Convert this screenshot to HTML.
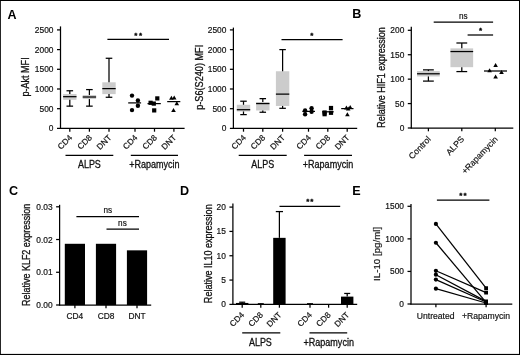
<!DOCTYPE html>
<html><head><meta charset="utf-8"><title>Figure</title>
<style>
html,body{margin:0;padding:0;background:#fff;}
body{width:520px;height:355px;overflow:hidden;position:relative;}
svg{display:block;position:absolute;left:0;top:0;}
text{font-family:"Liberation Sans",sans-serif;}
</style></head><body>
<svg width="520" height="355" viewBox="0 0 520 355">
<rect x="0" y="0" width="520" height="355" fill="#fff"/>
<text transform="translate(7.60,19.10)" font-size="12.5" text-anchor="start" font-weight="bold" fill="#000">A</text>
<line x1="60.50" y1="26.40" x2="60.50" y2="128.90" stroke="#000" stroke-width="1.25" stroke-linecap="butt"/>
<line x1="57.00" y1="128.40" x2="60.50" y2="128.40" stroke="#000" stroke-width="1.25" stroke-linecap="butt"/>
<text transform="translate(53.50,131.40)" font-size="8.4" text-anchor="end" stroke="#111" stroke-width="0.18" fill="#111">0</text>
<line x1="57.00" y1="108.70" x2="60.50" y2="108.70" stroke="#000" stroke-width="1.25" stroke-linecap="butt"/>
<text transform="translate(53.50,111.70)" font-size="8.4" text-anchor="end" stroke="#111" stroke-width="0.18" fill="#111">500</text>
<line x1="57.00" y1="89.00" x2="60.50" y2="89.00" stroke="#000" stroke-width="1.25" stroke-linecap="butt"/>
<text transform="translate(53.50,92.00)" font-size="8.4" text-anchor="end" stroke="#111" stroke-width="0.18" fill="#111">1000</text>
<line x1="57.00" y1="69.30" x2="60.50" y2="69.30" stroke="#000" stroke-width="1.25" stroke-linecap="butt"/>
<text transform="translate(53.50,72.30)" font-size="8.4" text-anchor="end" stroke="#111" stroke-width="0.18" fill="#111">1500</text>
<line x1="57.00" y1="49.60" x2="60.50" y2="49.60" stroke="#000" stroke-width="1.25" stroke-linecap="butt"/>
<text transform="translate(53.50,52.60)" font-size="8.4" text-anchor="end" stroke="#111" stroke-width="0.18" fill="#111">2000</text>
<line x1="57.00" y1="29.90" x2="60.50" y2="29.90" stroke="#000" stroke-width="1.25" stroke-linecap="butt"/>
<text transform="translate(53.50,32.90)" font-size="8.4" text-anchor="end" stroke="#111" stroke-width="0.18" fill="#111">2500</text>
<line x1="60.00" y1="128.40" x2="184.60" y2="128.40" stroke="#000" stroke-width="1.25" stroke-linecap="butt"/>
<line x1="69.80" y1="128.40" x2="69.80" y2="131.70" stroke="#000" stroke-width="1.25" stroke-linecap="butt"/>
<line x1="89.40" y1="128.40" x2="89.40" y2="131.70" stroke="#000" stroke-width="1.25" stroke-linecap="butt"/>
<line x1="109.00" y1="128.40" x2="109.00" y2="131.70" stroke="#000" stroke-width="1.25" stroke-linecap="butt"/>
<line x1="135.00" y1="128.40" x2="135.00" y2="131.70" stroke="#000" stroke-width="1.25" stroke-linecap="butt"/>
<line x1="154.50" y1="128.40" x2="154.50" y2="131.70" stroke="#000" stroke-width="1.25" stroke-linecap="butt"/>
<line x1="173.90" y1="128.40" x2="173.90" y2="131.70" stroke="#000" stroke-width="1.25" stroke-linecap="butt"/>
<text transform="translate(29.10,76.90) rotate(-90) scale(0.9034,1)" font-size="10" text-anchor="middle" stroke="#111" stroke-width="0.3" fill="#111">p-Akt MFI</text>
<rect x="63.10" y="94.04" width="13.40" height="5.79" fill="#cccccc"/>
<line x1="69.80" y1="90.77" x2="69.80" y2="94.04" stroke="#000" stroke-width="1.25" stroke-linecap="butt"/>
<line x1="69.80" y1="99.84" x2="69.80" y2="106.14" stroke="#000" stroke-width="1.25" stroke-linecap="butt"/>
<line x1="66.50" y1="90.77" x2="73.10" y2="90.77" stroke="#000" stroke-width="1.25" stroke-linecap="butt"/>
<line x1="66.50" y1="106.14" x2="73.10" y2="106.14" stroke="#000" stroke-width="1.25" stroke-linecap="butt"/>
<line x1="63.10" y1="96.68" x2="76.50" y2="96.68" stroke="#000" stroke-width="1.25" stroke-linecap="butt"/>
<rect x="82.70" y="94.99" width="13.40" height="4.06" fill="#cccccc"/>
<line x1="89.40" y1="89.59" x2="89.40" y2="94.99" stroke="#000" stroke-width="1.25" stroke-linecap="butt"/>
<line x1="89.40" y1="99.05" x2="89.40" y2="106.14" stroke="#000" stroke-width="1.25" stroke-linecap="butt"/>
<line x1="86.10" y1="89.59" x2="92.70" y2="89.59" stroke="#000" stroke-width="1.25" stroke-linecap="butt"/>
<line x1="86.10" y1="106.14" x2="92.70" y2="106.14" stroke="#000" stroke-width="1.25" stroke-linecap="butt"/>
<line x1="82.70" y1="97.00" x2="96.10" y2="97.00" stroke="#000" stroke-width="1.25" stroke-linecap="butt"/>
<rect x="102.30" y="82.30" width="13.40" height="11.82" fill="#cccccc"/>
<line x1="109.00" y1="58.27" x2="109.00" y2="82.30" stroke="#000" stroke-width="1.25" stroke-linecap="butt"/>
<line x1="109.00" y1="94.12" x2="109.00" y2="97.27" stroke="#000" stroke-width="1.25" stroke-linecap="butt"/>
<line x1="105.70" y1="58.27" x2="112.30" y2="58.27" stroke="#000" stroke-width="1.25" stroke-linecap="butt"/>
<line x1="105.70" y1="97.27" x2="112.30" y2="97.27" stroke="#000" stroke-width="1.25" stroke-linecap="butt"/>
<line x1="102.30" y1="88.61" x2="115.70" y2="88.61" stroke="#000" stroke-width="1.25" stroke-linecap="butt"/>
<circle cx="132.00" cy="95.60" r="2.2" fill="#000"/>
<circle cx="137.90" cy="100.50" r="2.2" fill="#000"/>
<circle cx="137.90" cy="105.70" r="2.2" fill="#000"/>
<circle cx="132.00" cy="110.10" r="2.2" fill="#000"/>
<line x1="128.20" y1="102.90" x2="141.10" y2="102.90" stroke="#000" stroke-width="1.25" stroke-linecap="butt"/>
<rect x="155.20" y="96.30" width="4.20" height="4.20" fill="#000"/>
<rect x="148.50" y="100.70" width="4.20" height="4.20" fill="#000"/>
<rect x="151.70" y="101.50" width="4.20" height="4.20" fill="#000"/>
<rect x="152.10" y="108.30" width="4.20" height="4.20" fill="#000"/>
<line x1="147.50" y1="103.60" x2="160.80" y2="103.60" stroke="#000" stroke-width="1.25" stroke-linecap="butt"/>
<polygon points="171.40,95.68 169.10,99.68 173.70,99.68" fill="#000"/>
<polygon points="174.20,95.38 171.90,99.38 176.50,99.38" fill="#000"/>
<polygon points="176.80,101.28 174.50,105.28 179.10,105.28" fill="#000"/>
<polygon points="173.50,107.98 171.20,111.98 175.80,111.98" fill="#000"/>
<line x1="167.20" y1="101.60" x2="180.30" y2="101.60" stroke="#000" stroke-width="1.25" stroke-linecap="butt"/>
<line x1="107.40" y1="39.30" x2="169.00" y2="39.30" stroke="#000" stroke-width="1.25" stroke-linecap="butt"/>
<text transform="translate(135.75,37.72)" font-size="8.0" text-anchor="middle" font-weight="bold" stroke="#000" stroke-width="0.3" fill="#000">*</text>
<text transform="translate(140.45,37.72)" font-size="8.0" text-anchor="middle" font-weight="bold" stroke="#000" stroke-width="0.3" fill="#000">*</text>
<text transform="translate(72.80,138.20) rotate(-45)" font-size="8.3" text-anchor="end" stroke="#111" stroke-width="0.18" fill="#111">CD4</text>
<text transform="translate(92.40,138.20) rotate(-45)" font-size="8.3" text-anchor="end" stroke="#111" stroke-width="0.18" fill="#111">CD8</text>
<text transform="translate(112.00,138.20) rotate(-45)" font-size="8.3" text-anchor="end" stroke="#111" stroke-width="0.18" fill="#111">DNT</text>
<text transform="translate(138.00,138.20) rotate(-45)" font-size="8.3" text-anchor="end" stroke="#111" stroke-width="0.18" fill="#111">CD4</text>
<text transform="translate(157.50,138.20) rotate(-45)" font-size="8.3" text-anchor="end" stroke="#111" stroke-width="0.18" fill="#111">CD8</text>
<text transform="translate(176.90,138.20) rotate(-45)" font-size="8.3" text-anchor="end" stroke="#111" stroke-width="0.18" fill="#111">DNT</text>
<line x1="65.50" y1="155.40" x2="113.30" y2="155.40" stroke="#000" stroke-width="1.25" stroke-linecap="butt"/>
<text transform="translate(89.40,167.70) scale(0.8694,1)" font-size="10.3" text-anchor="middle" stroke="#111" stroke-width="0.3" fill="#111">ALPS</text>
<line x1="130.80" y1="155.40" x2="178.00" y2="155.40" stroke="#000" stroke-width="1.25" stroke-linecap="butt"/>
<text transform="translate(154.40,167.70) scale(0.8777,1)" font-size="10.3" text-anchor="middle" stroke="#111" stroke-width="0.3" fill="#111">+Rapamycin</text>
<line x1="233.40" y1="27.60" x2="233.40" y2="128.90" stroke="#000" stroke-width="1.25" stroke-linecap="butt"/>
<line x1="229.90" y1="128.40" x2="233.40" y2="128.40" stroke="#000" stroke-width="1.25" stroke-linecap="butt"/>
<text transform="translate(226.40,131.40)" font-size="8.4" text-anchor="end" stroke="#111" stroke-width="0.18" fill="#111">0</text>
<line x1="229.90" y1="108.70" x2="233.40" y2="108.70" stroke="#000" stroke-width="1.25" stroke-linecap="butt"/>
<text transform="translate(226.40,111.70)" font-size="8.4" text-anchor="end" stroke="#111" stroke-width="0.18" fill="#111">500</text>
<line x1="229.90" y1="89.00" x2="233.40" y2="89.00" stroke="#000" stroke-width="1.25" stroke-linecap="butt"/>
<text transform="translate(226.40,92.00)" font-size="8.4" text-anchor="end" stroke="#111" stroke-width="0.18" fill="#111">1000</text>
<line x1="229.90" y1="69.30" x2="233.40" y2="69.30" stroke="#000" stroke-width="1.25" stroke-linecap="butt"/>
<text transform="translate(226.40,72.30)" font-size="8.4" text-anchor="end" stroke="#111" stroke-width="0.18" fill="#111">1500</text>
<line x1="229.90" y1="49.60" x2="233.40" y2="49.60" stroke="#000" stroke-width="1.25" stroke-linecap="butt"/>
<text transform="translate(226.40,52.60)" font-size="8.4" text-anchor="end" stroke="#111" stroke-width="0.18" fill="#111">2000</text>
<line x1="229.90" y1="29.90" x2="233.40" y2="29.90" stroke="#000" stroke-width="1.25" stroke-linecap="butt"/>
<text transform="translate(226.40,32.90)" font-size="8.4" text-anchor="end" stroke="#111" stroke-width="0.18" fill="#111">2500</text>
<line x1="232.90" y1="128.40" x2="357.20" y2="128.40" stroke="#000" stroke-width="1.25" stroke-linecap="butt"/>
<line x1="243.50" y1="128.40" x2="243.50" y2="131.70" stroke="#000" stroke-width="1.25" stroke-linecap="butt"/>
<line x1="262.80" y1="128.40" x2="262.80" y2="131.70" stroke="#000" stroke-width="1.25" stroke-linecap="butt"/>
<line x1="282.60" y1="128.40" x2="282.60" y2="131.70" stroke="#000" stroke-width="1.25" stroke-linecap="butt"/>
<line x1="308.50" y1="128.40" x2="308.50" y2="131.70" stroke="#000" stroke-width="1.25" stroke-linecap="butt"/>
<line x1="327.80" y1="128.40" x2="327.80" y2="131.70" stroke="#000" stroke-width="1.25" stroke-linecap="butt"/>
<line x1="347.20" y1="128.40" x2="347.20" y2="131.70" stroke="#000" stroke-width="1.25" stroke-linecap="butt"/>
<text transform="translate(202.90,77.30) rotate(-90) scale(0.9152,1)" font-size="10" text-anchor="middle" stroke="#111" stroke-width="0.3" fill="#111">p-S6(S240) MFI</text>
<rect x="236.80" y="104.76" width="13.40" height="6.70" fill="#cccccc"/>
<line x1="243.50" y1="101.21" x2="243.50" y2="104.76" stroke="#000" stroke-width="1.25" stroke-linecap="butt"/>
<line x1="243.50" y1="111.46" x2="243.50" y2="114.61" stroke="#000" stroke-width="1.25" stroke-linecap="butt"/>
<line x1="240.25" y1="101.21" x2="246.75" y2="101.21" stroke="#000" stroke-width="1.25" stroke-linecap="butt"/>
<line x1="240.25" y1="114.61" x2="246.75" y2="114.61" stroke="#000" stroke-width="1.25" stroke-linecap="butt"/>
<line x1="236.80" y1="109.69" x2="250.20" y2="109.69" stroke="#000" stroke-width="1.25" stroke-linecap="butt"/>
<rect x="256.10" y="102.00" width="13.40" height="8.47" fill="#cccccc"/>
<line x1="262.80" y1="98.65" x2="262.80" y2="102.00" stroke="#000" stroke-width="1.25" stroke-linecap="butt"/>
<line x1="262.80" y1="110.47" x2="262.80" y2="112.25" stroke="#000" stroke-width="1.25" stroke-linecap="butt"/>
<line x1="259.55" y1="98.65" x2="266.05" y2="98.65" stroke="#000" stroke-width="1.25" stroke-linecap="butt"/>
<line x1="259.55" y1="112.25" x2="266.05" y2="112.25" stroke="#000" stroke-width="1.25" stroke-linecap="butt"/>
<line x1="256.10" y1="103.58" x2="269.50" y2="103.58" stroke="#000" stroke-width="1.25" stroke-linecap="butt"/>
<rect x="275.90" y="71.27" width="13.40" height="34.67" fill="#cccccc"/>
<line x1="282.60" y1="49.60" x2="282.60" y2="71.27" stroke="#000" stroke-width="1.25" stroke-linecap="butt"/>
<line x1="282.60" y1="105.94" x2="282.60" y2="108.31" stroke="#000" stroke-width="1.25" stroke-linecap="butt"/>
<line x1="279.35" y1="49.60" x2="285.85" y2="49.60" stroke="#000" stroke-width="1.25" stroke-linecap="butt"/>
<line x1="279.35" y1="108.31" x2="285.85" y2="108.31" stroke="#000" stroke-width="1.25" stroke-linecap="butt"/>
<line x1="275.90" y1="94.12" x2="289.30" y2="94.12" stroke="#000" stroke-width="1.25" stroke-linecap="butt"/>
<circle cx="305.10" cy="110.40" r="2.2" fill="#000"/>
<circle cx="305.10" cy="114.20" r="2.2" fill="#000"/>
<circle cx="311.60" cy="108.30" r="2.2" fill="#000"/>
<circle cx="311.60" cy="111.80" r="2.2" fill="#000"/>
<line x1="302.30" y1="111.40" x2="315.00" y2="111.40" stroke="#000" stroke-width="1.25" stroke-linecap="butt"/>
<rect x="322.50" y="110.40" width="4.20" height="4.20" fill="#000"/>
<rect x="322.50" y="112.10" width="4.20" height="4.20" fill="#000"/>
<rect x="328.90" y="105.90" width="4.20" height="4.20" fill="#000"/>
<rect x="328.90" y="110.70" width="4.20" height="4.20" fill="#000"/>
<line x1="322.00" y1="111.80" x2="333.70" y2="111.80" stroke="#000" stroke-width="1.25" stroke-linecap="butt"/>
<polygon points="346.40,105.48 344.10,109.48 348.70,109.48" fill="#000"/>
<polygon points="350.20,104.88 347.90,108.88 352.50,108.88" fill="#000"/>
<polygon points="348.20,106.48 345.90,110.48 350.50,110.48" fill="#000"/>
<polygon points="347.40,112.28 345.10,116.28 349.70,116.28" fill="#000"/>
<line x1="341.20" y1="108.60" x2="353.50" y2="108.60" stroke="#000" stroke-width="1.25" stroke-linecap="butt"/>
<line x1="281.50" y1="39.50" x2="342.60" y2="39.50" stroke="#000" stroke-width="1.25" stroke-linecap="butt"/>
<text transform="translate(311.70,37.52)" font-size="8.0" text-anchor="middle" font-weight="bold" stroke="#000" stroke-width="0.3" fill="#000">*</text>
<text transform="translate(246.50,138.20) rotate(-45)" font-size="8.3" text-anchor="end" stroke="#111" stroke-width="0.18" fill="#111">CD4</text>
<text transform="translate(265.80,138.20) rotate(-45)" font-size="8.3" text-anchor="end" stroke="#111" stroke-width="0.18" fill="#111">CD8</text>
<text transform="translate(285.60,138.20) rotate(-45)" font-size="8.3" text-anchor="end" stroke="#111" stroke-width="0.18" fill="#111">DNT</text>
<text transform="translate(311.50,138.20) rotate(-45)" font-size="8.3" text-anchor="end" stroke="#111" stroke-width="0.18" fill="#111">CD4</text>
<text transform="translate(330.80,138.20) rotate(-45)" font-size="8.3" text-anchor="end" stroke="#111" stroke-width="0.18" fill="#111">CD8</text>
<text transform="translate(350.20,138.20) rotate(-45)" font-size="8.3" text-anchor="end" stroke="#111" stroke-width="0.18" fill="#111">DNT</text>
<line x1="238.70" y1="155.30" x2="286.70" y2="155.30" stroke="#000" stroke-width="1.25" stroke-linecap="butt"/>
<text transform="translate(262.70,167.70) scale(0.8694,1)" font-size="10.3" text-anchor="middle" stroke="#111" stroke-width="0.3" fill="#111">ALPS</text>
<line x1="304.10" y1="155.30" x2="352.00" y2="155.30" stroke="#000" stroke-width="1.25" stroke-linecap="butt"/>
<text transform="translate(328.00,167.70) scale(0.8777,1)" font-size="10.3" text-anchor="middle" stroke="#111" stroke-width="0.3" fill="#111">+Rapamycin</text>
<text transform="translate(352.30,18.10)" font-size="12.6" text-anchor="start" font-weight="bold" fill="#000">B</text>
<line x1="411.30" y1="26.80" x2="411.30" y2="128.50" stroke="#000" stroke-width="1.25" stroke-linecap="butt"/>
<line x1="407.80" y1="128.00" x2="411.30" y2="128.00" stroke="#000" stroke-width="1.25" stroke-linecap="butt"/>
<text transform="translate(404.30,131.00)" font-size="8.4" text-anchor="end" stroke="#111" stroke-width="0.18" fill="#111">0</text>
<line x1="407.80" y1="103.58" x2="411.30" y2="103.58" stroke="#000" stroke-width="1.25" stroke-linecap="butt"/>
<text transform="translate(404.30,106.58)" font-size="8.4" text-anchor="end" stroke="#111" stroke-width="0.18" fill="#111">50</text>
<line x1="407.80" y1="79.15" x2="411.30" y2="79.15" stroke="#000" stroke-width="1.25" stroke-linecap="butt"/>
<text transform="translate(404.30,82.15)" font-size="8.4" text-anchor="end" stroke="#111" stroke-width="0.18" fill="#111">100</text>
<line x1="407.80" y1="54.73" x2="411.30" y2="54.73" stroke="#000" stroke-width="1.25" stroke-linecap="butt"/>
<text transform="translate(404.30,57.73)" font-size="8.4" text-anchor="end" stroke="#111" stroke-width="0.18" fill="#111">150</text>
<line x1="407.80" y1="30.30" x2="411.30" y2="30.30" stroke="#000" stroke-width="1.25" stroke-linecap="butt"/>
<text transform="translate(404.30,33.30)" font-size="8.4" text-anchor="end" stroke="#111" stroke-width="0.18" fill="#111">200</text>
<line x1="410.80" y1="128.00" x2="513.30" y2="128.00" stroke="#000" stroke-width="1.25" stroke-linecap="butt"/>
<line x1="428.40" y1="128.00" x2="428.40" y2="131.30" stroke="#000" stroke-width="1.25" stroke-linecap="butt"/>
<line x1="461.80" y1="128.00" x2="461.80" y2="131.30" stroke="#000" stroke-width="1.25" stroke-linecap="butt"/>
<line x1="495.30" y1="128.00" x2="495.30" y2="131.30" stroke="#000" stroke-width="1.25" stroke-linecap="butt"/>
<text transform="translate(384.60,77.50) rotate(-90) scale(0.9014,1)" font-size="10" text-anchor="middle" stroke="#111" stroke-width="0.3" fill="#111">Relative HIF1 expression</text>
<rect x="417.05" y="71.09" width="22.70" height="5.37" fill="#cccccc"/>
<line x1="428.40" y1="69.87" x2="428.40" y2="71.09" stroke="#000" stroke-width="1.25" stroke-linecap="butt"/>
<line x1="428.40" y1="76.46" x2="428.40" y2="81.10" stroke="#000" stroke-width="1.25" stroke-linecap="butt"/>
<line x1="423.00" y1="69.87" x2="433.80" y2="69.87" stroke="#000" stroke-width="1.25" stroke-linecap="butt"/>
<line x1="423.00" y1="81.10" x2="433.80" y2="81.10" stroke="#000" stroke-width="1.25" stroke-linecap="butt"/>
<line x1="417.05" y1="73.78" x2="439.75" y2="73.78" stroke="#000" stroke-width="1.25" stroke-linecap="butt"/>
<rect x="450.45" y="48.37" width="22.70" height="18.81" fill="#cccccc"/>
<line x1="461.80" y1="43.00" x2="461.80" y2="48.37" stroke="#000" stroke-width="1.25" stroke-linecap="butt"/>
<line x1="461.80" y1="67.18" x2="461.80" y2="71.58" stroke="#000" stroke-width="1.25" stroke-linecap="butt"/>
<line x1="456.40" y1="43.00" x2="467.20" y2="43.00" stroke="#000" stroke-width="1.25" stroke-linecap="butt"/>
<line x1="456.40" y1="71.58" x2="467.20" y2="71.58" stroke="#000" stroke-width="1.25" stroke-linecap="butt"/>
<line x1="450.45" y1="51.55" x2="473.15" y2="51.55" stroke="#000" stroke-width="1.25" stroke-linecap="butt"/>
<polygon points="495.60,63.08 493.30,67.08 497.90,67.08" fill="#000"/>
<polygon points="489.60,68.28 487.30,72.28 491.90,72.28" fill="#000"/>
<polygon points="501.50,69.88 499.20,73.88 503.80,73.88" fill="#000"/>
<polygon points="495.60,74.48 493.30,78.48 497.90,78.48" fill="#000"/>
<line x1="484.00" y1="71.00" x2="507.00" y2="71.00" stroke="#000" stroke-width="1.25" stroke-linecap="butt"/>
<line x1="433.70" y1="22.00" x2="493.10" y2="22.00" stroke="#000" stroke-width="1.25" stroke-linecap="butt"/>
<text transform="translate(463.30,18.50)" font-size="8.2" text-anchor="middle" stroke="#111" stroke-width="0.18" fill="#111">ns</text>
<line x1="467.60" y1="35.00" x2="493.10" y2="35.00" stroke="#000" stroke-width="1.25" stroke-linecap="butt"/>
<text transform="translate(480.50,33.02)" font-size="8.0" text-anchor="middle" font-weight="bold" stroke="#000" stroke-width="0.3" fill="#000">*</text>
<text transform="translate(431.40,139.70) rotate(-46.5)" font-size="8.6" text-anchor="end" stroke="#111" stroke-width="0.18" fill="#111">Control</text>
<text transform="translate(464.80,139.70) rotate(-46.5)" font-size="8.6" text-anchor="end" stroke="#111" stroke-width="0.18" fill="#111">ALPS</text>
<text transform="translate(498.30,139.70) rotate(-46.5)" font-size="8.6" text-anchor="end" stroke="#111" stroke-width="0.18" fill="#111">+Rapamycin</text>
<text transform="translate(8.90,194.60)" font-size="12.6" text-anchor="start" font-weight="bold" fill="#000">C</text>
<line x1="59.60" y1="204.80" x2="59.60" y2="305.50" stroke="#000" stroke-width="1.25" stroke-linecap="butt"/>
<line x1="56.10" y1="305.00" x2="59.60" y2="305.00" stroke="#000" stroke-width="1.25" stroke-linecap="butt"/>
<text transform="translate(52.60,308.00)" font-size="8.4" text-anchor="end" stroke="#111" stroke-width="0.18" fill="#111">0.00</text>
<line x1="56.10" y1="272.27" x2="59.60" y2="272.27" stroke="#000" stroke-width="1.25" stroke-linecap="butt"/>
<text transform="translate(52.60,275.27)" font-size="8.4" text-anchor="end" stroke="#111" stroke-width="0.18" fill="#111">0.01</text>
<line x1="56.10" y1="239.53" x2="59.60" y2="239.53" stroke="#000" stroke-width="1.25" stroke-linecap="butt"/>
<text transform="translate(52.60,242.53)" font-size="8.4" text-anchor="end" stroke="#111" stroke-width="0.18" fill="#111">0.02</text>
<line x1="56.10" y1="206.80" x2="59.60" y2="206.80" stroke="#000" stroke-width="1.25" stroke-linecap="butt"/>
<text transform="translate(52.60,209.80)" font-size="8.4" text-anchor="end" stroke="#111" stroke-width="0.18" fill="#111">0.03</text>
<line x1="59.10" y1="305.00" x2="151.20" y2="305.00" stroke="#000" stroke-width="1.25" stroke-linecap="butt"/>
<line x1="74.90" y1="305.00" x2="74.90" y2="308.30" stroke="#000" stroke-width="1.25" stroke-linecap="butt"/>
<line x1="106.00" y1="305.00" x2="106.00" y2="308.30" stroke="#000" stroke-width="1.25" stroke-linecap="butt"/>
<line x1="137.00" y1="305.00" x2="137.00" y2="308.30" stroke="#000" stroke-width="1.25" stroke-linecap="butt"/>
<text transform="translate(30.40,254.90) rotate(-90) scale(0.8969,1)" font-size="10" text-anchor="middle" stroke="#111" stroke-width="0.3" fill="#111">Relative KLF2 expression</text>
<rect x="64.80" y="243.79" width="20.20" height="61.21" fill="#000"/>
<rect x="95.90" y="243.79" width="20.20" height="61.21" fill="#000"/>
<rect x="126.90" y="250.34" width="20.20" height="54.66" fill="#000"/>
<text transform="translate(74.90,318.70)" font-size="8.4" text-anchor="middle" stroke="#111" stroke-width="0.18" fill="#111">CD4</text>
<text transform="translate(106.00,318.70)" font-size="8.4" text-anchor="middle" stroke="#111" stroke-width="0.18" fill="#111">CD8</text>
<text transform="translate(137.00,318.70)" font-size="8.4" text-anchor="middle" stroke="#111" stroke-width="0.18" fill="#111">DNT</text>
<line x1="76.40" y1="216.50" x2="139.00" y2="216.50" stroke="#000" stroke-width="1.25" stroke-linecap="butt"/>
<text transform="translate(107.80,213.20)" font-size="8.2" text-anchor="middle" stroke="#111" stroke-width="0.18" fill="#111">ns</text>
<line x1="106.50" y1="229.10" x2="139.00" y2="229.10" stroke="#000" stroke-width="1.25" stroke-linecap="butt"/>
<text transform="translate(122.40,225.70)" font-size="8.2" text-anchor="middle" stroke="#111" stroke-width="0.18" fill="#111">ns</text>
<text transform="translate(179.90,195.00)" font-size="12.6" text-anchor="start" font-weight="bold" fill="#000">D</text>
<line x1="232.90" y1="203.60" x2="232.90" y2="304.90" stroke="#000" stroke-width="1.25" stroke-linecap="butt"/>
<line x1="229.40" y1="304.40" x2="232.90" y2="304.40" stroke="#000" stroke-width="1.25" stroke-linecap="butt"/>
<text transform="translate(225.90,307.40)" font-size="8.4" text-anchor="end" stroke="#111" stroke-width="0.18" fill="#111">0</text>
<line x1="229.40" y1="280.07" x2="232.90" y2="280.07" stroke="#000" stroke-width="1.25" stroke-linecap="butt"/>
<text transform="translate(225.90,283.07)" font-size="8.4" text-anchor="end" stroke="#111" stroke-width="0.18" fill="#111">5</text>
<line x1="229.40" y1="255.75" x2="232.90" y2="255.75" stroke="#000" stroke-width="1.25" stroke-linecap="butt"/>
<text transform="translate(225.90,258.75)" font-size="8.4" text-anchor="end" stroke="#111" stroke-width="0.18" fill="#111">10</text>
<line x1="229.40" y1="231.42" x2="232.90" y2="231.42" stroke="#000" stroke-width="1.25" stroke-linecap="butt"/>
<text transform="translate(225.90,234.42)" font-size="8.4" text-anchor="end" stroke="#111" stroke-width="0.18" fill="#111">15</text>
<line x1="229.40" y1="207.10" x2="232.90" y2="207.10" stroke="#000" stroke-width="1.25" stroke-linecap="butt"/>
<text transform="translate(225.90,210.10)" font-size="8.4" text-anchor="end" stroke="#111" stroke-width="0.18" fill="#111">20</text>
<line x1="232.40" y1="304.40" x2="357.20" y2="304.40" stroke="#000" stroke-width="1.25" stroke-linecap="butt"/>
<line x1="242.20" y1="304.40" x2="242.20" y2="307.70" stroke="#000" stroke-width="1.25" stroke-linecap="butt"/>
<line x1="260.80" y1="304.40" x2="260.80" y2="307.70" stroke="#000" stroke-width="1.25" stroke-linecap="butt"/>
<line x1="279.40" y1="304.40" x2="279.40" y2="307.70" stroke="#000" stroke-width="1.25" stroke-linecap="butt"/>
<line x1="310.00" y1="304.40" x2="310.00" y2="307.70" stroke="#000" stroke-width="1.25" stroke-linecap="butt"/>
<line x1="328.60" y1="304.40" x2="328.60" y2="307.70" stroke="#000" stroke-width="1.25" stroke-linecap="butt"/>
<line x1="347.20" y1="304.40" x2="347.20" y2="307.70" stroke="#000" stroke-width="1.25" stroke-linecap="butt"/>
<text transform="translate(211.60,253.75) rotate(-90) scale(0.9031,1)" font-size="10" text-anchor="middle" stroke="#111" stroke-width="0.3" fill="#111">Relative IL10 expression</text>
<rect x="236.00" y="302.94" width="12.40" height="1.46" fill="#000"/>
<line x1="242.20" y1="302.94" x2="242.20" y2="302.21" stroke="#000" stroke-width="1.25" stroke-linecap="butt"/>
<line x1="239.20" y1="302.21" x2="245.20" y2="302.21" stroke="#000" stroke-width="1.25" stroke-linecap="butt"/>
<rect x="254.60" y="304.01" width="12.40" height="0.39" fill="#000"/>
<line x1="260.80" y1="304.01" x2="260.80" y2="303.77" stroke="#000" stroke-width="1.25" stroke-linecap="butt"/>
<line x1="257.80" y1="303.77" x2="263.80" y2="303.77" stroke="#000" stroke-width="1.25" stroke-linecap="butt"/>
<rect x="273.20" y="237.85" width="12.40" height="66.55" fill="#000"/>
<line x1="279.40" y1="237.85" x2="279.40" y2="211.58" stroke="#000" stroke-width="1.25" stroke-linecap="butt"/>
<line x1="275.80" y1="211.58" x2="283.00" y2="211.58" stroke="#000" stroke-width="1.25" stroke-linecap="butt"/>
<rect x="303.80" y="304.01" width="12.40" height="0.39" fill="#000"/>
<line x1="310.00" y1="304.01" x2="310.00" y2="303.77" stroke="#000" stroke-width="1.25" stroke-linecap="butt"/>
<line x1="307.00" y1="303.77" x2="313.00" y2="303.77" stroke="#000" stroke-width="1.25" stroke-linecap="butt"/>
<rect x="341.00" y="296.62" width="12.40" height="7.78" fill="#000"/>
<line x1="347.20" y1="296.62" x2="347.20" y2="293.45" stroke="#000" stroke-width="1.25" stroke-linecap="butt"/>
<line x1="344.20" y1="293.45" x2="350.20" y2="293.45" stroke="#000" stroke-width="1.25" stroke-linecap="butt"/>
<line x1="279.50" y1="206.40" x2="340.20" y2="206.40" stroke="#000" stroke-width="1.25" stroke-linecap="butt"/>
<text transform="translate(307.80,203.92)" font-size="8.0" text-anchor="middle" font-weight="bold" stroke="#000" stroke-width="0.3" fill="#000">*</text>
<text transform="translate(311.80,203.92)" font-size="8.0" text-anchor="middle" font-weight="bold" stroke="#000" stroke-width="0.3" fill="#000">*</text>
<text transform="translate(244.80,315.40) rotate(-45)" font-size="8.3" text-anchor="end" stroke="#111" stroke-width="0.18" fill="#111">CD4</text>
<text transform="translate(263.40,315.40) rotate(-45)" font-size="8.3" text-anchor="end" stroke="#111" stroke-width="0.18" fill="#111">CD8</text>
<text transform="translate(282.00,315.40) rotate(-45)" font-size="8.3" text-anchor="end" stroke="#111" stroke-width="0.18" fill="#111">DNT</text>
<text transform="translate(312.60,315.40) rotate(-45)" font-size="8.3" text-anchor="end" stroke="#111" stroke-width="0.18" fill="#111">CD4</text>
<text transform="translate(331.20,315.40) rotate(-45)" font-size="8.3" text-anchor="end" stroke="#111" stroke-width="0.18" fill="#111">CD8</text>
<text transform="translate(349.80,315.40) rotate(-45)" font-size="8.3" text-anchor="end" stroke="#111" stroke-width="0.18" fill="#111">DNT</text>
<line x1="242.20" y1="332.80" x2="280.30" y2="332.80" stroke="#000" stroke-width="1.25" stroke-linecap="butt"/>
<text transform="translate(260.40,345.50) scale(0.8694,1)" font-size="10.3" text-anchor="middle" stroke="#111" stroke-width="0.3" fill="#111">ALPS</text>
<line x1="309.50" y1="332.80" x2="347.20" y2="332.80" stroke="#000" stroke-width="1.25" stroke-linecap="butt"/>
<text transform="translate(328.70,345.50) scale(0.8777,1)" font-size="10.3" text-anchor="middle" stroke="#111" stroke-width="0.3" fill="#111">+Rapamycin</text>
<text transform="translate(352.30,195.00)" font-size="12.6" text-anchor="start" font-weight="bold" fill="#000">E</text>
<line x1="411.00" y1="204.00" x2="411.00" y2="304.50" stroke="#000" stroke-width="1.25" stroke-linecap="butt"/>
<line x1="407.50" y1="304.00" x2="411.00" y2="304.00" stroke="#000" stroke-width="1.25" stroke-linecap="butt"/>
<text transform="translate(404.00,307.00)" font-size="8.4" text-anchor="end" stroke="#111" stroke-width="0.18" fill="#111">0</text>
<line x1="407.50" y1="271.43" x2="411.00" y2="271.43" stroke="#000" stroke-width="1.25" stroke-linecap="butt"/>
<text transform="translate(404.00,274.43)" font-size="8.4" text-anchor="end" stroke="#111" stroke-width="0.18" fill="#111">500</text>
<line x1="407.50" y1="238.87" x2="411.00" y2="238.87" stroke="#000" stroke-width="1.25" stroke-linecap="butt"/>
<text transform="translate(404.00,241.87)" font-size="8.4" text-anchor="end" stroke="#111" stroke-width="0.18" fill="#111">1000</text>
<line x1="407.50" y1="206.30" x2="411.00" y2="206.30" stroke="#000" stroke-width="1.25" stroke-linecap="butt"/>
<text transform="translate(404.00,209.30)" font-size="8.4" text-anchor="end" stroke="#111" stroke-width="0.18" fill="#111">1500</text>
<line x1="410.50" y1="304.00" x2="512.30" y2="304.00" stroke="#000" stroke-width="1.25" stroke-linecap="butt"/>
<line x1="435.90" y1="304.00" x2="435.90" y2="307.30" stroke="#000" stroke-width="1.25" stroke-linecap="butt"/>
<line x1="486.10" y1="304.00" x2="486.10" y2="307.30" stroke="#000" stroke-width="1.25" stroke-linecap="butt"/>
<text transform="translate(379.60,253.90) rotate(-90) scale(0.9950,1)" font-size="9.8" text-anchor="middle" stroke="#111" stroke-width="0.18" fill="#111">IL-10 [pg/ml]</text>
<line x1="435.90" y1="223.89" x2="486.10" y2="288.17" stroke="#000" stroke-width="1.25" stroke-linecap="butt"/>
<circle cx="435.90" cy="223.89" r="2.1" fill="#000"/>
<rect x="484.20" y="286.27" width="3.80" height="3.80" fill="#000"/>
<line x1="435.90" y1="242.77" x2="486.10" y2="302.37" stroke="#000" stroke-width="1.25" stroke-linecap="butt"/>
<circle cx="435.90" cy="242.77" r="2.1" fill="#000"/>
<rect x="484.20" y="300.47" width="3.80" height="3.80" fill="#000"/>
<line x1="435.90" y1="270.78" x2="486.10" y2="292.60" stroke="#000" stroke-width="1.25" stroke-linecap="butt"/>
<circle cx="435.90" cy="270.78" r="2.1" fill="#000"/>
<rect x="484.20" y="290.70" width="3.80" height="3.80" fill="#000"/>
<line x1="435.90" y1="274.69" x2="486.10" y2="301.39" stroke="#000" stroke-width="1.25" stroke-linecap="butt"/>
<circle cx="435.90" cy="274.69" r="2.1" fill="#000"/>
<rect x="484.20" y="299.49" width="3.80" height="3.80" fill="#000"/>
<line x1="435.90" y1="279.57" x2="486.10" y2="302.05" stroke="#000" stroke-width="1.25" stroke-linecap="butt"/>
<circle cx="435.90" cy="279.57" r="2.1" fill="#000"/>
<rect x="484.20" y="300.15" width="3.80" height="3.80" fill="#000"/>
<line x1="435.90" y1="288.69" x2="486.10" y2="303.02" stroke="#000" stroke-width="1.25" stroke-linecap="butt"/>
<circle cx="435.90" cy="288.69" r="2.1" fill="#000"/>
<rect x="484.20" y="301.12" width="3.80" height="3.80" fill="#000"/>
<line x1="436.90" y1="200.00" x2="489.40" y2="200.00" stroke="#000" stroke-width="1.25" stroke-linecap="butt"/>
<text transform="translate(460.85,197.72)" font-size="8.0" text-anchor="middle" font-weight="bold" stroke="#000" stroke-width="0.3" fill="#000">*</text>
<text transform="translate(465.15,197.72)" font-size="8.0" text-anchor="middle" font-weight="bold" stroke="#000" stroke-width="0.3" fill="#000">*</text>
<text transform="translate(435.70,318.50)" font-size="8.6" text-anchor="middle" stroke="#111" stroke-width="0.18" fill="#111">Untreated</text>
<text transform="translate(486.00,318.50)" font-size="8.6" text-anchor="middle" stroke="#111" stroke-width="0.18" fill="#111">+Rapamycin</text>
<rect x="0" y="0" width="520" height="1" fill="#000"/>
<rect x="0" y="0" width="0.85" height="355" fill="#000"/>
<rect x="519" y="0" width="1" height="355" fill="#000"/>
<rect x="0" y="353.9" width="520" height="1.1" fill="#000"/>
</svg>
</body></html>
